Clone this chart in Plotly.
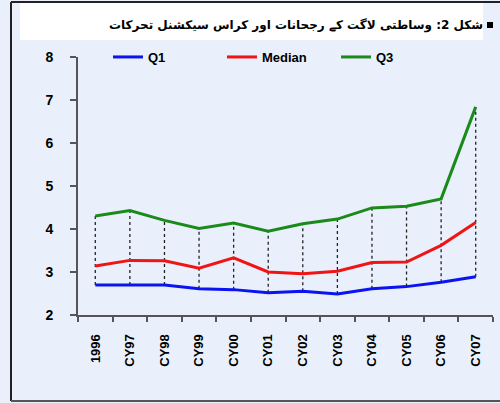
import plotly.graph_objects as go

years = ["1996", "CY97", "CY98", "CY99", "CY00", "CY01", "CY02", "CY03", "CY04", "CY05", "CY06", "CY07"]
q1 = [2.70, 2.70, 2.70, 2.61, 2.59, 2.52, 2.55, 2.49, 2.61, 2.66, 2.76, 2.89]
median = [3.14, 3.27, 3.26, 3.09, 3.33, 3.00, 2.96, 3.02, 3.22, 3.23, 3.62, 4.15]
q3 = [4.30, 4.43, 4.20, 4.01, 4.14, 3.95, 4.12, 4.23, 4.49, 4.53, 4.70, 6.84]
title_text = "شکل 2: وساطتی لاگت کے رجحانات اور کراس سیکشنل تحرکات"

# high-low drop lines built from the data
hx, hy = [], []
for c, lo, hi in zip(years, q1, q3):
    hx += [c, c, None]
    hy += [lo, hi, None]

fig = go.Figure()
fig.add_trace(go.Scatter(x=hx, y=hy, mode="lines", showlegend=False, hoverinfo="skip",
                         line=dict(color="#222222", width=1.3, dash="dot")))
fig.add_trace(go.Scatter(x=years, y=q1, name="Q1", mode="lines", line=dict(color="#0a14f0", width=3)))
fig.add_trace(go.Scatter(x=years, y=median, name="Median", mode="lines", line=dict(color="#f01414", width=3)))
fig.add_trace(go.Scatter(x=years, y=q3, name="Q3", mode="lines", line=dict(color="#1a8a1a", width=3)))

L, R, T, B = 78, 7, 57, 88
W, H = 500, 403
pw, ph = W - L - R, H - T - B


def px(x):
    return (x - L) / pw


def py(y):
    return (H - B - y) / ph


fig.update_layout(
    width=W, height=H,
    margin=dict(l=L, r=R, t=T, b=B, autoexpand=False),
    paper_bgcolor="#e9f0fb",
    plot_bgcolor="#e9f0fb",
    font=dict(family="Liberation Sans, Arial, sans-serif", color="#000000"),
    showlegend=True,
    legend=dict(orientation="h", x=px(108), y=py(57), xanchor="left", yanchor="middle",
                bgcolor="rgba(0,0,0,0)", font=dict(size=13, weight="bold"),
                entrywidth=69, entrywidthmode="pixels"),
    shapes=[
        dict(type="rect", xref="paper", yref="paper", x0=px(20), x1=px(483), y0=py(40), y1=py(3),
             fillcolor="#ffffff", line=dict(width=0), layer="below"),
        dict(type="line", xref="paper", yref="paper", x0=px(11), x1=px(11), y0=py(2), y1=py(401),
             line=dict(color="#222222", width=2)),
        dict(type="line", xref="paper", yref="paper", x0=px(11), x1=px(500), y0=py(2), y1=py(2),
             line=dict(color="#222222", width=2)),
        dict(type="line", xref="paper", yref="paper", x0=px(11), x1=px(500), y0=py(401), y1=py(401),
             line=dict(color="#555555", width=2)),
        dict(type="rect", xref="paper", yref="paper", x0=px(487), x1=px(493), y0=py(28), y1=py(22),
             fillcolor="#000000", line=dict(width=0)),
    ],
    annotations=[
        dict(text=title_text, xref="paper", yref="paper", x=px(485), y=py(25),
             xanchor="right", yanchor="middle", showarrow=False,
             font=dict(family="DejaVu Sans, Noto Sans", size=12, color="#000000", weight="bold")),
    ],
)

fig.update_xaxes(type="category", range=[-0.5, 11.5], tickson="boundaries", ticks="outside",
                 ticklen=5, tickwidth=2, tickcolor="#555555", showline=True, linecolor="#555555",
                 linewidth=2, showgrid=False, tickangle=-90, ticklabelstandoff=12,
                 tickfont=dict(size=13, weight="bold"))
fig.update_yaxes(range=[2, 8], dtick=1, ticks="outside", ticklen=6, tickwidth=2, tickcolor="#555555",
                 showline=True, linecolor="#555555", linewidth=2, showgrid=False, zeroline=False,
                 tickfont=dict(size=14, weight="bold"), ticklabelstandoff=14)

fig.write_html("out.html", config={"displayModeBar": False},
               post_script="document.body.style.margin='0';")
